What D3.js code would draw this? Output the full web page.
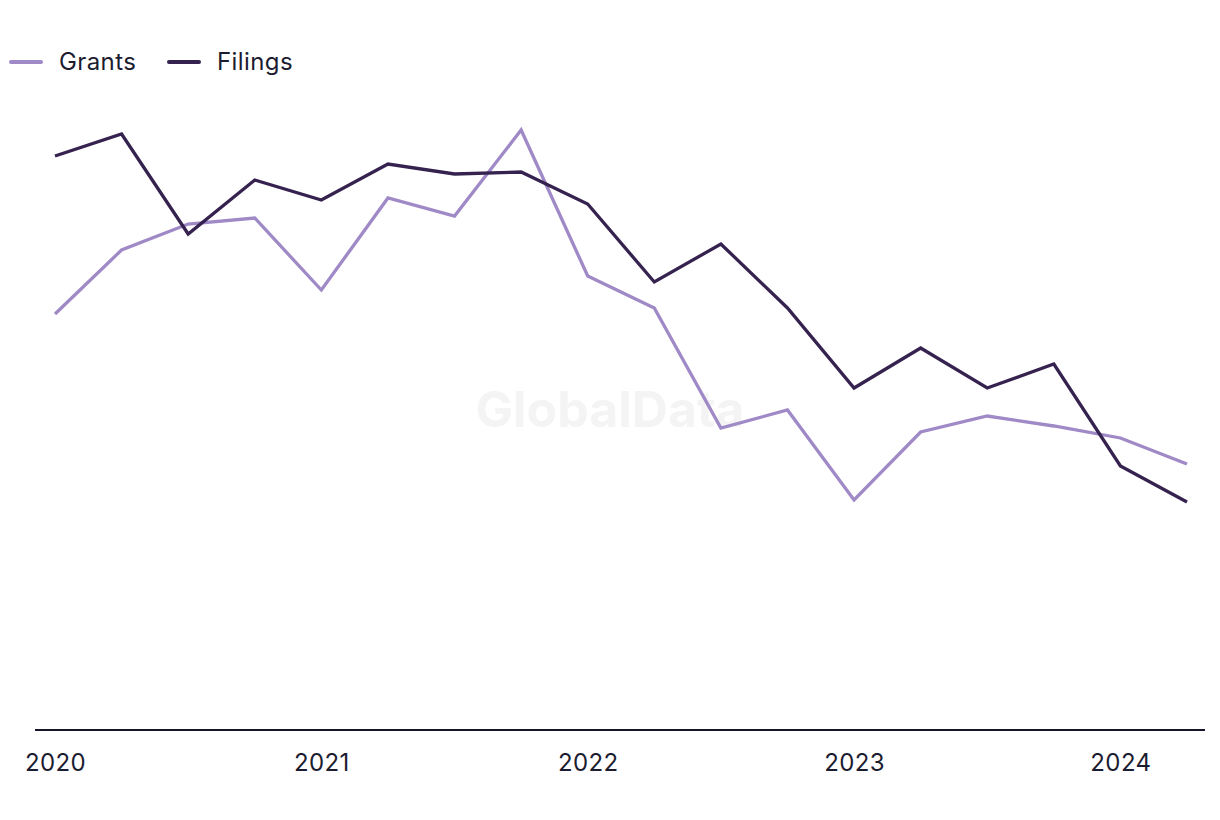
<!DOCTYPE html>
<html>
<head>
<meta charset="utf-8">
<script src="https://cdn.jsdelivr.net/npm/d3@7"></script>
<style>
  html, body { margin: 0; padding: 0; background: #ffffff; }
  svg { display: block; }
  text { font-family: "Inter", "Liberation Sans", sans-serif; }
</style>
</head>
<body>
<svg id="chart" width="1220" height="820"></svg>
<script>
const quarters = ["2020Q1","2020Q2","2020Q3","2020Q4","2021Q1","2021Q2","2021Q3","2021Q4",
                  "2022Q1","2022Q2","2022Q3","2022Q4","2023Q1","2023Q2","2023Q3","2023Q4",
                  "2024Q1","2024Q2"];
const grants  = [208, 240, 253, 256, 220, 266, 257, 300, 227, 211, 151, 160, 115, 149, 157, 152, 146, 133];
const filings = [287, 298, 248, 275, 265, 283, 278, 279, 263, 224, 243, 211, 171, 191, 171, 183, 132, 114];
const yearTicks = ["2020Q1","2021Q1","2022Q1","2023Q1","2024Q1"];
const yearLabels = ["2020","2021","2022","2023","2024"];
const seriesNames = ["Grants","Filings"];
const seriesColors = ["#9f89c6","#35224f"];

const svg = d3.select("#chart");
const x = d3.scalePoint().domain(quarters).range([55, 1187]);
const y = d3.scaleLinear().domain([0, 300]).range([730, 130]);

// watermark
svg.append("text")
  .attr("x", 610).attr("y", 427)
  .attr("text-anchor", "middle")
  .attr("font-size", 50).attr("font-weight", 700)
  .attr("font-family", "Liberation Sans, Arial, sans-serif")
  .attr("fill", "#f4f4f4")
  .text("GlobalData");

// x axis
const axis = d3.axisBottom(x)
  .tickValues(yearTicks)
  .tickFormat(d => yearLabels[yearTicks.indexOf(d)])
  .tickSize(0).tickPadding(24);
const gx = svg.append("g").attr("transform", "translate(0,730)").call(axis);
gx.select(".domain").remove();
gx.selectAll("text")
  .attr("font-size", 24).attr("fill", "#1c1c30")
  .style("letter-spacing", "0.4px")
  .style("font-family", "Inter, Liberation Sans, sans-serif");
const step = x.step();
gx.append("line")
  .attr("x1", x.range()[0] - step * 0.3).attr("x2", x.range()[1] + step * 0.27)
  .attr("y1", 0).attr("y2", 0)
  .attr("stroke", "#15152a").attr("stroke-width", 2);

// lines
const line = d3.line().x((d, i) => x(quarters[i])).y(d => y(d));
[grants, filings].forEach((vals, k) => {
  svg.append("path")
    .datum(vals)
    .attr("d", line)
    .attr("fill", "none")
    .attr("stroke", seriesColors[k])
    .attr("stroke-width", 3.3)
    .attr("stroke-linejoin", "miter");
});

// legend
const legendX = [11, 169];
seriesNames.forEach((name, k) => {
  const g = svg.append("g").attr("transform", `translate(${legendX[k]},62)`);
  g.append("line").attr("x1", 0).attr("x2", 30).attr("y1", 0).attr("y2", 0)
    .attr("stroke", seriesColors[k]).attr("stroke-width", 4).attr("stroke-linecap", "round");
  g.append("text").attr("x", 48).attr("y", 8)
    .attr("font-size", 24).attr("fill", "#1c1c30")
    .style("letter-spacing", "0.4px").text(name);
});
</script>
</body>
</html>
